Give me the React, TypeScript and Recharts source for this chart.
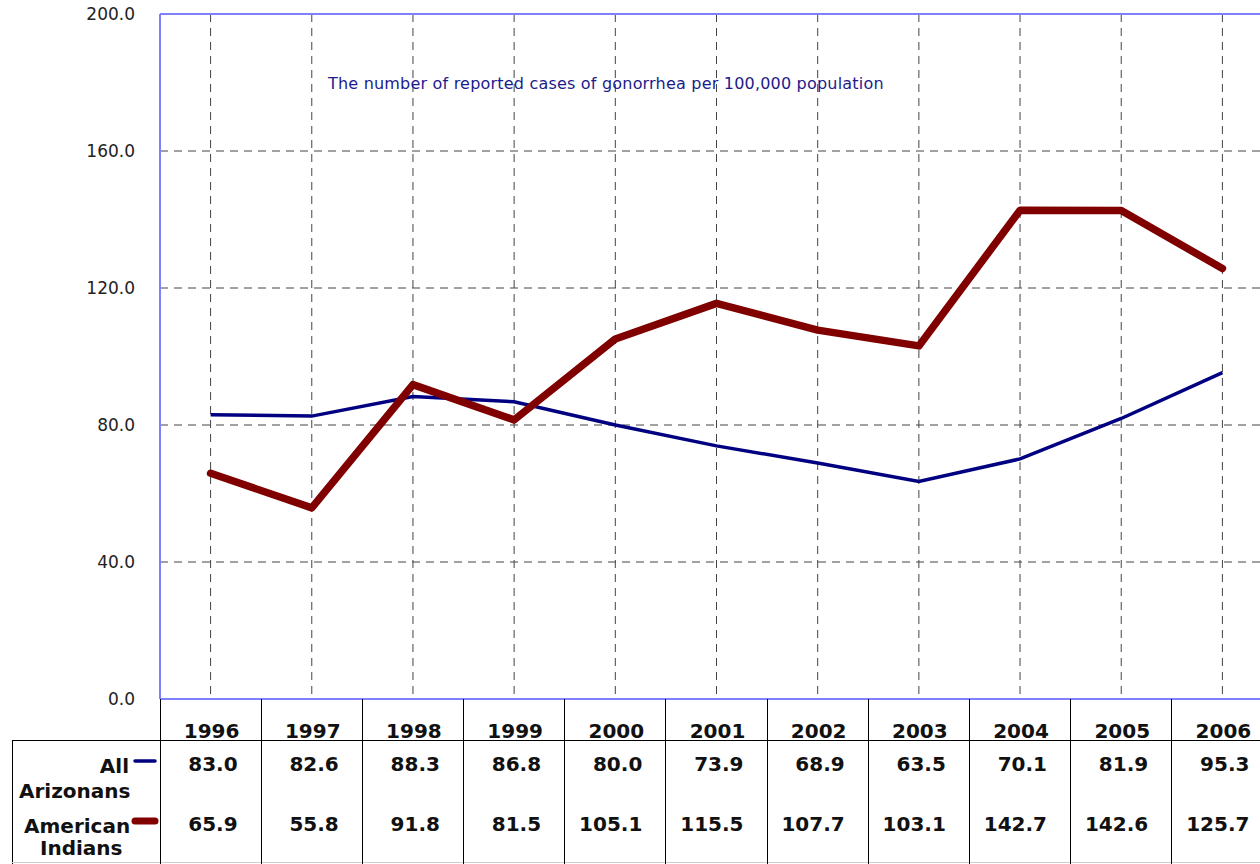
import { LineChart, Line, XAxis, YAxis, CartesianGrid, ReferenceLine } from 'recharts';

const years = ['1996', '1997', '1998', '1999', '2000', '2001', '2002', '2003', '2004', '2005', '2006'];
const allArizonans = [83.0, 82.6, 88.3, 86.8, 80.0, 73.9, 68.9, 63.5, 70.1, 81.9, 95.3];
const americanIndians = [65.9, 55.8, 91.8, 81.5, 105.1, 115.5, 107.7, 103.1, 142.7, 142.6, 125.7];
const yTicks = [0, 40, 80, 120, 160, 200];

const titleText = 'The number of reported cases of gonorrhea per 100,000 population';

const CHART_W = 1300;
const CHART_H = 864;
const MARGIN = { top: 14, right: 27, left: 0, bottom: 0 };
const YAXIS_W = 160;
const XAXIS_H = 165;
const PLOT_BOTTOM = CHART_H - MARGIN.bottom - XAXIS_H;
const BAND = (CHART_W - MARGIN.left - MARGIN.right - YAXIS_W) / years.length;

const data = years.map((year, i) => ({
  year,
  all: allArizonans[i],
  indians: americanIndians[i],
}));

const BLUE = '#000080';
const RED = '#800000';
const tableFont = { fontFamily: '"DejaVu Sans", Verdana, sans-serif', fontSize: 20, fontWeight: 700, fill: '#111' };

// x-axis tick doubles as the data table column under each year
function TableTick(props: any) {
  const { x, payload } = props;
  const i = typeof props.index === 'number' ? props.index : years.indexOf(payload.value);
  const top = PLOT_BOTTOM;
  const half = BAND / 2;
  return (
    <g>
      {i === 0 && (
        <g>
          <line x1={12} x2={CHART_W} y1={top + 41} y2={top + 41} stroke="#000" shapeRendering="crispEdges" />
          <line x1={12} x2={12} y1={top + 41} y2={CHART_H} stroke="#000" shapeRendering="crispEdges" />
          <line x1={12} x2={CHART_W} y1={top + 163} y2={top + 163} stroke="#ccc" shapeRendering="crispEdges" />
          <text x={129} y={top + 74} textAnchor="end" {...tableFont}>All</text>
          <text x={19} y={top + 99} {...tableFont}>Arizonans</text>
          <text x={24} y={top + 134} {...tableFont}>American</text>
          <text x={40} y={top + 156} {...tableFont}>Indians</text>
          <line x1={135} x2={155} y1={top + 62} y2={top + 62} stroke={BLUE} strokeWidth={3.5} strokeLinecap="round" />
          <line x1={135} x2={155} y1={top + 122} y2={top + 122} stroke={RED} strokeWidth={7} strokeLinecap="round" />
        </g>
      )}
      <line x1={x - half} x2={x - half} y1={top} y2={CHART_H} stroke="#000" shapeRendering="crispEdges" />
      {i === years.length - 1 && (
        <line x1={x + half} x2={x + half} y1={top} y2={CHART_H} stroke="#000" shapeRendering="crispEdges" />
      )}
      <text x={x + 1} y={top + 39} textAnchor="middle" {...tableFont}>{payload.value}</text>
      <text x={x + 27} y={top + 72} textAnchor="end" {...tableFont}>{allArizonans[i].toFixed(1)}</text>
      <text x={x + 27} y={top + 132} textAnchor="end" {...tableFont}>{americanIndians[i].toFixed(1)}</text>
    </g>
  );
}

export default function App() {
  return (
    <div
      style={{
        position: 'fixed',
        left: 0,
        top: 0,
        width: 1260,
        height: 864,
        overflow: 'hidden',
        background: '#fff',
      }}
    >
      <LineChart width={CHART_W} height={CHART_H} data={data} margin={MARGIN}>
        <CartesianGrid stroke="#444" strokeDasharray="8 6" vertical horizontal />
        <XAxis
          dataKey="year"
          height={XAXIS_H}
          interval={0}
          padding={{ left: BAND / 2, right: BAND / 2 }}
          axisLine={{ stroke: '#8080ff', strokeWidth: 2 }}
          tickLine={false}
          tickSize={0}
          tick={<TableTick />}
        />
        <YAxis
          width={YAXIS_W}
          domain={[0, 200]}
          ticks={yTicks}
          interval={0}
          tickFormatter={(v: number) => v.toFixed(1)}
          axisLine={{ stroke: '#8080ff', strokeWidth: 2 }}
          tickLine={false}
          tickSize={0}
          tickMargin={25}
          tick={{ fontFamily: '"DejaVu Sans", Verdana, sans-serif', fontSize: 17, fill: '#222' }}
        />
        <ReferenceLine y={200} stroke="#8080ff" strokeWidth={2} />
        <Line
          type="linear"
          dataKey="all"
          name="All Arizonans"
          stroke={BLUE}
          strokeWidth={3.5}
          dot={false}
          isAnimationActive={false}
        />
        <Line
          type="linear"
          dataKey="indians"
          name="American Indians"
          stroke={RED}
          strokeWidth={7.5}
          strokeLinecap="round"
          strokeLinejoin="round"
          dot={false}
          isAnimationActive={false}
        />
      </LineChart>
      <div
        style={{
          position: 'absolute',
          left: 328,
          top: 74,
          fontFamily: '"DejaVu Sans", Verdana, sans-serif',
          fontSize: 16,
          letterSpacing: 0.2,
          color: '#1c1c8c',
          whiteSpace: 'nowrap',
        }}
      >
        {titleText}
      </div>
    </div>
  );
}
